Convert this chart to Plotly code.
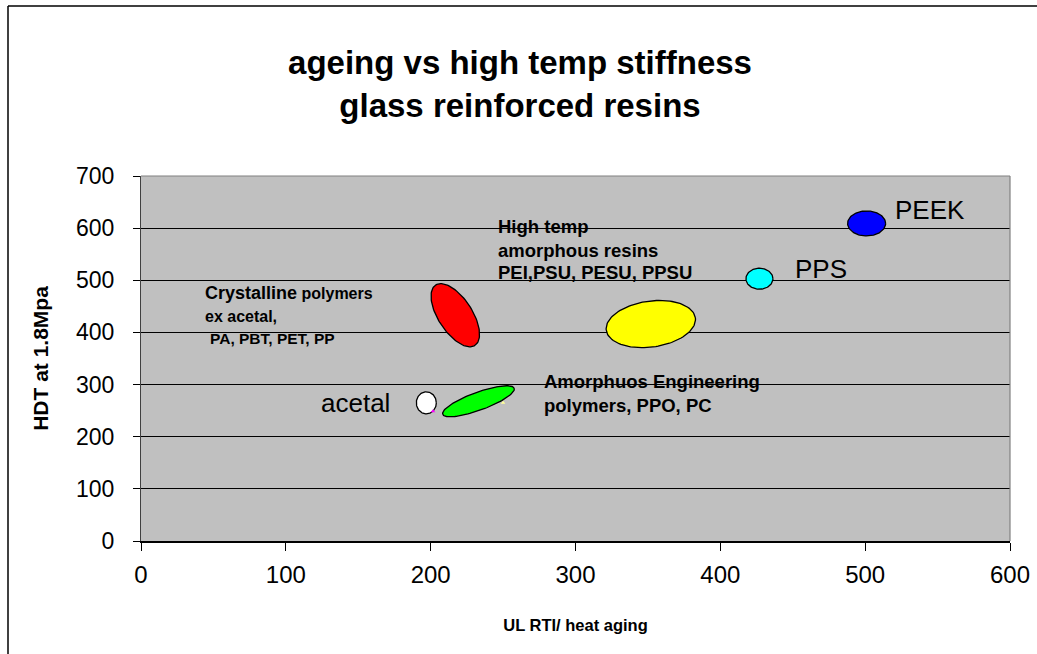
import numpy as np
import plotly.graph_objects as go

# ---- data ----
groups = ["PEEK", "PPS", "High temp amorphous", "Crystalline", "Amorphous eng.", "acetal"]
rti_center = [501, 427, 352, 217, 233, 197]          # UL RTI / heat aging (x)
hdt_center = [609, 503, 416, 433, 268, 265]          # HDT at 1.8MPa (y)
fill_colors = ["#0000FF", "#00FFFF", "#FFFF00", "#FF0000", "#00FF00", "#FFFFFF"]
# ellipse shape (screen pixels): semi-major, semi-minor, rotation (deg, ccw from horizontal)
semi_a_px = [19, 13.5, 45, 36, 38, 10]
semi_b_px = [12.5, 10.5, 23, 17, 9, 11]
angle_deg = [0, 0, 8, -57, 20, 0]

hidden_x = [201.6, 250]
hidden_y = [249, 265]
hidden_colors = ["#FF00FF", "#FFFF99"]

x_ticks = [0, 100, 200, 300, 400, 500, 600]
y_ticks = [0, 100, 200, 300, 400, 500, 600, 700]

W, H = 1037, 654
ML, MR, MT, MB = 141, 27, 176, 113
PW, PH = W - ML - MR, H - MT - MB
sx = 600 / PW
sy = 700 / PH

fig = go.Figure()

t = np.linspace(0, 2 * np.pi, 120)
for name, cx, cy, col, a, b, ang in zip(groups, rti_center, hdt_center, fill_colors,
                                        semi_a_px, semi_b_px, angle_deg):
    th = np.radians(ang)
    px = a * np.cos(t) * np.cos(th) - b * np.sin(t) * np.sin(th)
    py = a * np.cos(t) * np.sin(th) + b * np.sin(t) * np.cos(th)
    fig.add_trace(go.Scatter(x=cx + px * sx, y=cy + py * sy, mode="lines", fill="toself",
                             fillcolor=col, line=dict(color="black", width=1.3),
                             name=name, hoverinfo="name", showlegend=False))

fig.add_trace(go.Scatter(x=hidden_x, y=hidden_y, mode="markers",
                         marker=dict(size=4, color=hidden_colors, symbol="triangle-up"),
                         showlegend=False, hoverinfo="skip"))

F = "Liberation Sans, Arial, sans-serif"
label_texts = [
    (519, 634, "PEEK"),
    (450, 522, "PPS"),
    (123, 265, "acetal"),
]
annotations = []
for x, y, txt in label_texts:
    annotations.append(dict(x=x, y=y, xref="x", yref="y", text=txt,
                            showarrow=False, xanchor="left", yanchor="middle",
                            font=dict(family=F, size=26, color="black")))

block_texts = [
    (43, 476, "<b><span style='font-size:18px'>Crystalline</span> polymers</b>", 16),
    (43, 431, "<b>ex acetal,</b>", 16),
    (46, 389, "<b>PA, PBT, PET, PP</b>", 15.5),
    (245, 604, "<b>High temp</b>", 18.5),
    (245, 558, "<b>amorphous resins</b>", 18.5),
    (245, 514, "<b>PEI,PSU, PESU, PPSU</b>", 18.5),
    (277, 305, "<b>Amorphuos Engineering</b>", 18.5),
    (277, 259, "<b>polymers, PPO, PC</b>", 18.5),
]
for x, y, txt, s in block_texts:
    annotations.append(dict(x=x, y=y, xref="x", yref="y", text=txt, showarrow=False,
                            xanchor="left", yanchor="middle",
                            font=dict(family=F, size=s, color="black")))

# outer chart border (extends past the visible window on right/bottom)
bx = (8 - ML) / PW
by = 1 + (MT - 6) / PH
shapes = [
    dict(type="line", xref="paper", yref="paper", x0=bx, x1=bx, y0=-0.5, y1=by,
         line=dict(color="black", width=1.5)),
    dict(type="line", xref="paper", yref="paper", x0=bx, x1=1.2, y0=by, y1=by,
         line=dict(color="black", width=1.5)),
    dict(type="line", xref="paper", yref="paper", x0=0, x1=1, y0=1, y1=1,
         line=dict(color="#808080", width=1.2)),
    dict(type="line", xref="paper", yref="paper", x0=1, x1=1, y0=0, y1=1,
         line=dict(color="#808080", width=1.2)),
]

fig.update_layout(
    width=W, height=H,
    margin=dict(l=ML, r=MR, t=MT, b=MB, autoexpand=False),
    paper_bgcolor="white", plot_bgcolor="#C0C0C0",
    title=dict(text="<b>ageing vs high temp stiffness<br>glass reinforced resins</b>",
               x=(520 - ML) / PW, xref="paper", xanchor="center",
               y=1 - 74 / H, yanchor="middle",
               font=dict(family=F, size=33, color="black")),
    annotations=annotations,
    shapes=shapes,
    showlegend=False,
)
fig.update_xaxes(range=[0, 600], tickvals=x_ticks, showgrid=False, zeroline=False,
                 showline=True, linecolor="black", linewidth=2,
                 ticks="outside", ticklen=8, tickcolor="black", tickwidth=1,
                 ticklabelstandoff=3,
                 tickfont=dict(family=F, size=24, color="black"),
                 title=dict(text="<b>UL RTI/ heat aging</b>", standoff=33,
                            font=dict(family=F, size=16.5, color="black")),
                 fixedrange=True)
fig.update_yaxes(range=[0, 700], tickvals=y_ticks, showgrid=True, gridcolor="black",
                 gridwidth=1, zeroline=False,
                 showline=True, linecolor="#404040", linewidth=1.3,
                 ticks="outside", ticklen=7, tickcolor="black", tickwidth=1,
                 ticklabelstandoff=14,
                 tickfont=dict(family=F, size=23, color="black"),
                 title=dict(text="<b>HDT at 1.8Mpa</b>", standoff=21,
                            font=dict(family=F, size=21, color="black")),
                 fixedrange=True)

fig.write_html("out.html", post_script="document.body.style.margin='0px';",
               config={"displayModeBar": False})
